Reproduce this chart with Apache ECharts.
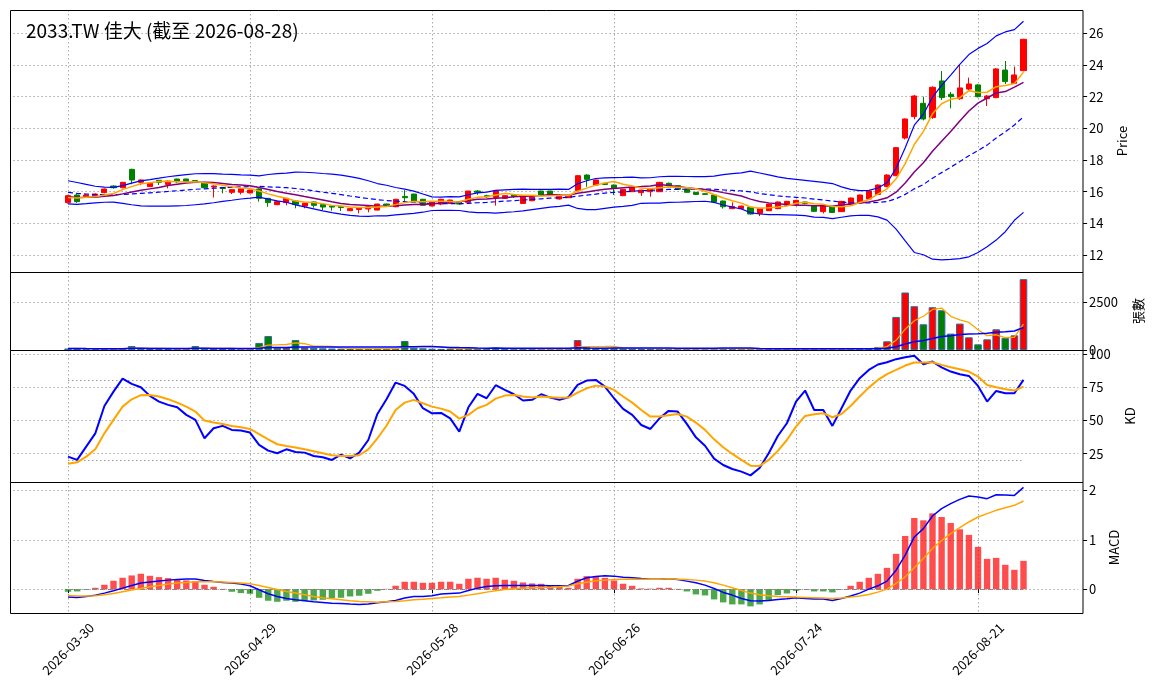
<!DOCTYPE html>
<html>
<head>
<meta charset="utf-8">
<title>2033.TW 佳大</title>
<script src="https://cdn.jsdelivr.net/npm/echarts@6/dist/echarts.min.js"></script>
<style>
html, body { margin: 0; padding: 0; background: #fff; }
#chart { width: 1156px; height: 698px; }
</style>
</head>
<body>
<div id="chart"></div>
<script>
// trading calendar: weekdays from first to last bar, minus exchange holidays
var firstDay = '2026-03-30';
var lastDay = '2026-08-28';
var holidays = ['2026-04-03', '2026-04-06', '2026-05-01', '2026-06-19'];

var opens = [15.31,15.79,15.68,15.72,15.94,16.36,16.25,17.41,16.59,16.32,
  16.72,16.46,16.8,16.8,16.7,16.57,16.3,16.27,15.96,15.96,
  15.92,16.17,15.58,15.18,15.31,15.41,15.09,15.35,15.2,15.09,
  15.07,14.8,14.88,14.91,14.84,15.22,15.05,15.7,15.85,15.52,
  15.1,15.22,15.26,15.37,15.33,16.04,15.75,15.64,15.58,15.8,
  15.26,15.43,16.04,16.04,15.54,15.62,16.06,17.05,16.42,16.53,
  16.42,15.75,16.0,15.94,16.0,16.0,16.53,16.38,16.15,15.96,
  15.87,15.79,15.41,14.93,14.93,15.01,14.63,14.8,14.93,15.14,
  15.2,15.35,15.09,14.74,15.05,14.74,15.18,15.33,15.54,15.83,
  16.32,17.01,19.39,20.74,21.58,20.69,22.99,22.15,21.87,22.48,
  22.74,21.87,21.94,23.68,22.84,23.64];
var highs = [15.8,15.85,15.85,15.9,16.2,16.4,16.62,17.45,16.76,16.56,
  16.74,16.7,16.82,16.82,16.72,16.6,16.4,16.3,16.15,16.2,
  16.12,16.2,15.6,15.4,15.6,15.45,15.3,15.37,15.22,15.1,
  15.08,14.95,15.0,15.07,15.24,15.25,15.55,16.1,15.87,15.55,
  15.4,15.55,15.5,15.4,16.06,16.1,15.8,16.06,15.78,15.85,
  15.76,15.7,16.06,16.06,15.82,15.78,17.05,17.1,16.76,16.56,
  16.45,16.17,16.3,16.12,16.19,16.62,16.58,16.4,16.18,15.98,
  15.9,15.82,15.44,15.33,15.12,15.03,14.98,15.25,15.38,15.42,
  15.48,15.38,15.12,15.17,15.08,15.42,15.63,15.82,16.07,16.46,
  17.1,18.82,20.62,22.1,22.0,22.65,23.62,22.3,24.0,23.2,
  22.78,22.1,23.8,24.25,23.9,25.65];
var lows = [15.25,15.3,15.6,15.65,15.9,16.2,16.22,16.47,16.42,16.3,
  16.42,16.21,16.55,16.6,16.55,16.22,15.63,15.9,15.85,15.83,
  15.9,15.37,15.05,15.15,15.14,14.95,14.95,14.99,14.84,14.8,
  14.78,14.78,14.63,14.7,14.82,15.1,15.02,15.37,15.35,15.12,
  15.08,15.15,15.24,15.2,15.3,15.8,15.6,15.12,15.55,15.6,
  15.24,15.4,15.76,15.76,15.5,15.6,16.03,16.31,16.4,16.42,
  15.79,15.72,15.98,15.73,15.68,15.98,16.35,16.12,15.94,15.8,
  15.8,15.3,14.93,14.9,14.9,14.56,14.46,14.78,14.9,15.1,
  15.18,15.2,14.72,14.63,14.66,14.72,15.15,15.3,15.5,15.8,
  16.28,16.98,19.3,20.57,20.5,20.6,21.79,21.26,21.8,22.4,
  21.95,21.41,21.9,22.8,22.8,23.6];
var closes = [15.75,15.37,15.79,15.85,16.17,16.25,16.59,16.74,16.74,16.53,
  16.59,16.67,16.63,16.63,16.62,16.25,16.36,16.2,16.13,16.19,
  16.1,15.58,15.31,15.37,15.58,15.2,15.28,15.14,15.03,15.03,
  15.0,14.93,14.99,15.05,15.22,15.14,15.52,15.62,15.37,15.14,
  15.37,15.52,15.47,15.22,16.04,15.96,15.68,16.04,15.75,15.7,
  15.73,15.68,15.79,15.79,15.79,15.75,17.01,16.78,16.74,16.46,
  16.21,16.15,16.27,16.1,16.17,16.59,16.38,16.15,15.96,15.83,
  15.83,15.35,15.05,15.07,15.09,14.59,14.95,15.22,15.35,15.39,
  15.45,15.26,14.76,15.14,14.69,15.39,15.6,15.79,16.04,16.42,
  17.05,18.78,20.59,22.04,20.59,22.59,21.94,22.0,22.55,22.8,
  22.0,22.04,23.75,22.95,23.37,25.62];
// closes before the window, backed out from where the averages start
var priorCloses = [16.7,16.6,16.5,16.4,16.3,16.2,16.1,16.0,15.9,15.7,
  15.8,15.7,15.75,15.65,15.7,15.6,15.55,15.65,15.65];

var volumes = [80,90,60,50,70,60,90,210,70,60,
  50,60,70,60,210,80,70,60,50,60,
  80,370,730,120,140,520,130,110,90,80,
  70,60,70,80,90,60,80,470,120,90,
  70,60,70,50,100,80,60,120,60,50,
  70,60,70,60,60,70,520,150,90,80,
  110,90,70,60,70,80,60,60,70,60,
  50,80,90,60,50,70,60,50,60,50,
  60,50,60,70,50,60,80,90,100,160,
  455,1730,3007,2290,1346,2237,2080,857,1381,664,
  297,559,1084,629,769,3706];

var kValues = [22.8,20.3,30.3,40.3,60.9,71.7,81.5,77.5,75,68.5,
  64.2,61.7,59.9,54.2,50.4,36.6,44.1,45.9,42.9,42.4,
  40.9,31.6,27.3,25.3,28.3,26.3,25.8,23.3,22.3,20.3,
  24.3,21.5,25.8,35.3,54.9,66,78.5,76,70,59.2,
  55.4,55.7,51.6,41.6,59.9,70,66.7,76.5,73,69.7,
  65,65.5,69.7,67.2,65.5,67.5,76.7,80,80.5,75.5,
  66.7,58.7,54.2,46.6,43.6,51.6,57.2,56.7,47.4,37.3,
  31,21.3,16.5,13.5,11.5,8.7,14.2,25.3,38.3,47.9,
  64.2,72.5,57.9,57.9,45.9,59.2,72.5,81.8,88,92.1,
  93.8,96.1,97.6,98.6,92.3,94.3,90,86.8,84.8,83.5,
  76,64.2,72.2,70.5,70.5,80.5];
var dValues = [17.5,18.5,22.8,28.3,40.3,50.4,60.4,65.9,69,69.2,
  68,66,63.4,60.4,56.7,49.9,48.4,47.4,45.9,44.9,
  43.6,39.8,35.8,32.1,30.8,29.6,28.3,26.8,25.3,23.8,
  23.3,23.3,23.8,28.3,36.6,46,57.9,63.4,65.5,62.9,
  60.4,58.9,56.7,51.4,54.2,59.2,61.7,66.4,68.7,69.2,
  68,67.2,68,67.5,67,67.2,71,74.2,76.2,75.5,
  73,68,63.4,57.9,52.9,52.9,53.9,54.9,52.9,48.4,
  42.9,35.8,29.8,24.8,20.3,16,15.8,20.3,27.1,35.3,
  45.4,53.4,54.7,55.4,52.4,54.9,60.9,68,74.7,80.5,
  84.8,88,91.3,93.6,93.6,93.8,91.8,90,88.5,86.8,
  83,76.7,75,73.5,72.5,75.5];

var difValues = [-0.162,-0.169,-0.149,-0.122,-0.081,-0.034,0.02,0.074,0.122,0.142,
  0.162,0.182,0.196,0.203,0.203,0.176,0.155,0.135,0.122,0.101,
  0.068,-0.014,-0.095,-0.149,-0.189,-0.216,-0.236,-0.257,-0.27,-0.284,
  -0.291,-0.304,-0.311,-0.304,-0.277,-0.257,-0.23,-0.182,-0.149,-0.149,
  -0.135,-0.101,-0.088,-0.081,-0.027,0.02,0.054,0.068,0.074,0.074,
  0.074,0.074,0.074,0.07,0.067,0.074,0.162,0.229,0.256,0.269,
  0.263,0.242,0.229,0.215,0.202,0.202,0.209,0.195,0.162,0.128,
  0.081,0.013,-0.067,-0.121,-0.189,-0.236,-0.242,-0.229,-0.209,-0.195,
  -0.175,-0.189,-0.202,-0.202,-0.229,-0.189,-0.141,-0.081,0,0.067,
  0.162,0.384,0.687,1.057,1.226,1.481,1.63,1.731,1.818,1.886,
  1.865,1.832,1.912,1.906,1.899,2.061];
var deaValues = [-0.128,-0.142,-0.142,-0.135,-0.115,-0.088,-0.054,-0.02,0.014,0.047,
  0.074,0.101,0.122,0.135,0.149,0.149,0.149,0.142,0.135,0.122,
  0.108,0.074,0.034,-0.007,-0.047,-0.081,-0.115,-0.149,-0.176,-0.196,
  -0.216,-0.236,-0.25,-0.257,-0.264,-0.257,-0.25,-0.236,-0.216,-0.203,
  -0.189,-0.176,-0.162,-0.149,-0.122,-0.095,-0.061,-0.034,-0.007,0.007,
  0.02,0.027,0.034,0.04,0.047,0.061,0.108,0.141,0.168,0.182,
  0.195,0.202,0.202,0.202,0.202,0.202,0.209,0.202,0.195,0.182,
  0.162,0.128,0.081,0.027,-0.027,-0.081,-0.114,-0.135,-0.148,-0.155,
  -0.162,-0.168,-0.175,-0.182,-0.189,-0.182,-0.162,-0.141,-0.108,-0.061,
  0,0.114,0.249,0.431,0.62,0.822,0.983,1.125,1.246,1.36,
  1.461,1.529,1.596,1.65,1.697,1.785];
var histValues = [-0.054,-0.047,-0.01,0.027,0.088,0.169,0.23,0.277,0.311,0.27,
  0.243,0.223,0.189,0.176,0.162,0.088,0.047,0.005,-0.054,-0.081,
  -0.095,-0.176,-0.236,-0.257,-0.236,-0.257,-0.243,-0.23,-0.216,-0.182,
  -0.176,-0.149,-0.135,-0.095,-0.034,0.005,0.068,0.149,0.149,0.128,
  0.128,0.149,0.149,0.108,0.209,0.23,0.209,0.23,0.189,0.169,
  0.135,0.115,0.108,0.07,0.047,0.027,0.209,0.263,0.249,0.229,
  0.175,0.108,0.067,0.013,0.01,0.027,0.027,0.005,-0.047,-0.108,
  -0.128,-0.209,-0.269,-0.31,-0.31,-0.35,-0.31,-0.242,-0.121,-0.088,
  -0.034,-0.005,-0.047,-0.047,-0.067,-0.005,0.067,0.148,0.229,0.31,
  0.431,0.714,1.077,1.441,1.394,1.535,1.461,1.34,1.212,1.098,
  0.855,0.613,0.633,0.492,0.391,0.572];

var priceTicks = [12, 14, 16, 18, 20, 22, 24, 26];
var volumeTicks = [0, 2500];
var kdTicks = [25, 50, 75, 100];
var macdTicks = [0, 1, 2];

var FONT = '"Noto Sans CJK TC", "Noto Sans", sans-serif';
var PAD_LEFT = 6, PAD_RIGHT = 6, LABEL_STEP = 20;

function tradingDays(start, end) {
    var out = [];
    var d = new Date(start + 'T00:00:00Z');
    var stop = new Date(end + 'T00:00:00Z');
    while (d <= stop) {
        var s = d.toISOString().slice(0, 10);
        var wd = d.getUTCDay();
        if (wd !== 0 && wd !== 6 && holidays.indexOf(s) < 0) out.push(s);
        d.setUTCDate(d.getUTCDate() + 1);
    }
    return out;
}

function pad(arr) {
    var left = [], right = [];
    for (var i = 0; i < PAD_LEFT; i++) left.push('-');
    for (var j = 0; j < PAD_RIGHT; j++) right.push('-');
    return left.concat(arr, right);
}

function rollingMean(src, n, offset, count) {
    var out = [];
    for (var i = 0; i < count; i++) {
        var end = i + offset + 1;
        var start = Math.max(0, end - n);
        var s = 0;
        for (var k = start; k < end; k++) s += src[k];
        out.push(+(s / (end - start)).toFixed(3));
    }
    return out;
}

function rollingStd(src, n, offset, count) {
    var out = [];
    for (var i = 0; i < count; i++) {
        var end = i + offset + 1;
        var start = Math.max(0, end - n);
        var m = 0, len = end - start;
        for (var k = start; k < end; k++) m += src[k];
        m /= len;
        var v = 0;
        for (var k2 = start; k2 < end; k2++) v += (src[k2] - m) * (src[k2] - m);
        out.push(len > 1 ? Math.sqrt(v / (len - 1)) : 0);
    }
    return out;
}

var dates = tradingDays(firstDay, lastDay);
var n = dates.length;
var categories = [];
for (var i = 0; i < PAD_LEFT; i++) categories.push('L' + i);
categories = categories.concat(dates);
for (var i = 0; i < PAD_RIGHT; i++) categories.push('R' + i);

var allCloses = priorCloses.concat(closes);
var off = priorCloses.length;
var ma5 = rollingMean(allCloses, 5, off, n);
var ma10 = rollingMean(allCloses, 10, off, n);
var ma20 = rollingMean(allCloses, 20, off, n);
var sd20 = rollingStd(allCloses, 20, off, n);
var bbUpper = ma20.map(function (m, i) { return +(m + 2 * sd20[i]).toFixed(3); });
var bbLower = ma20.map(function (m, i) { return +(m - 2 * sd20[i]).toFixed(3); });
var volMa5 = rollingMean(volumes, 5, 0, n);
var volMa20 = rollingMean(volumes, 20, 0, n);

var candleData = [];
var volumeData = [];
var histData = [];
for (var i = 0; i < n; i++) {
    candleData.push([opens[i], closes[i], lows[i], highs[i]]);
    volumeData.push({
        value: volumes[i],
        itemStyle: { color: closes[i] >= opens[i] ? '#ff0000' : '#008000' }
    });
    histData.push({
        value: histValues[i],
        itemStyle: { color: histValues[i] >= 0 ? 'rgba(255,0,0,0.7)' : 'rgba(0,128,0,0.7)' }
    });
}

function tickFilter(index) {
    var k = index - PAD_LEFT;
    return k >= 0 && k <= 100 && k % LABEL_STEP === 0;
}

var gridLine = { color: '#a8a8a8', type: [1.5, 2.5], width: 1 };

function xAxisFor(gridIndex, bottom) {
    return {
        type: 'category', gridIndex: gridIndex, data: categories, boundaryGap: false,
        axisLine: { show: false },
        axisTick: { show: bottom, interval: tickFilter, length: 4, lineStyle: { color: '#000' } },
        axisLabel: {
            show: bottom, interval: tickFilter, rotate: 45, margin: 36,
            align: 'center', verticalAlign: 'middle',
            fontSize: 13, color: '#000', fontFamily: FONT
        },
        splitLine: { show: true, interval: tickFilter, lineStyle: gridLine }
    };
}

function yAxisFor(gridIndex, min, max, ticks, name, gap) {
    return {
        type: 'value', gridIndex: gridIndex, position: 'right', offset: 5,
        min: min, max: max,
        name: name, nameLocation: 'middle', nameGap: gap, nameRotate: 90,
        nameTextStyle: { fontSize: 13, color: '#000', fontFamily: FONT },
        axisLine: { show: false },
        axisTick: { show: true, length: 4, customValues: ticks, lineStyle: { color: '#000' } },
        axisLabel: {
            customValues: ticks, fontSize: 13, color: '#000', margin: 6, fontFamily: FONT,
            formatter: function (v) { return String(v); }
        },
        splitLine: { show: true, lineStyle: gridLine }
    };
}

function lineSeries(name, data, xi, color, width, dashed) {
    return {
        name: name, type: 'line', xAxisIndex: xi, yAxisIndex: xi, data: pad(data),
        symbol: 'none', silent: true, z: 5,
        lineStyle: { color: color, width: width, type: dashed ? [5, 3] : 'solid' }
    };
}

var gridLeft = 13.4, gridWidth = 1064.7;
var panels = [
    { top: 10, height: 262 },
    { top: 272, height: 78 },
    { top: 350, height: 132 },
    { top: 482, height: 131 }
];

var frames = panels.map(function (p) {
    return {
        type: 'rect', z: 100, silent: true,
        shape: { x: 10.5, y: p.top + 0.5, width: 1072.5, height: p.height },
        style: { fill: null, stroke: '#000', lineWidth: 1 }
    };
});

var chart = echarts.init(document.getElementById('chart'));
var option = {
    animation: false,
    backgroundColor: '#fff',
    title: {
        text: '2033.TW 佳大 (截至 2026-08-28)',
        left: 21, top: 16,
        textStyle: { fontSize: 19, fontWeight: 'normal', color: '#000', fontFamily: FONT }
    },
    graphic: frames,
    grid: panels.map(function (p) {
        return { left: gridLeft, width: gridWidth, top: p.top, height: p.height, show: false };
    }),
    xAxis: [xAxisFor(0, false), xAxisFor(1, false), xAxisFor(2, false), xAxisFor(3, true)],
    yAxis: [
        yAxisFor(0, 10.93, 27.47, priceTicks, 'Price', 32),
        yAxisFor(1, 0, 4080, volumeTicks, '張數', 48),
        yAxisFor(2, 3.7, 103, kdTicks, 'KD', 40),
        yAxisFor(3, -0.484, 2.17, macdTicks, 'MACD', 23)
    ],
    series: [
        {
            name: 'K線', type: 'candlestick', xAxisIndex: 0, yAxisIndex: 0,
            data: pad(candleData), barWidth: 5.6, z: 3,
            itemStyle: {
                color: '#ff0000', color0: '#008000',
                borderColor: '#ff0000', borderColor0: '#008000', borderWidth: 1
            }
        },
        lineSeries('BB上軌', bbUpper, 0, '#0000ff', 1.2, false),
        lineSeries('BB下軌', bbLower, 0, '#0000ff', 1.2, false),
        lineSeries('MA20', ma20, 0, '#0000ff', 1.2, true),
        lineSeries('MA10', ma10, 0, '#800080', 1.5, false),
        lineSeries('MA5', ma5, 0, '#ffa500', 1.5, false),
        {
            name: '成交量', type: 'bar', xAxisIndex: 1, yAxisIndex: 1,
            data: pad(volumeData), barWidth: 7.6, z: 3,
            itemStyle: { borderColor: '#2f6c9c', borderWidth: 1 }
        },
        lineSeries('量MA5', volMa5, 1, '#ffa500', 1.3, false),
        lineSeries('量MA20', volMa20, 1, '#0000ff', 1.5, false),
        {
            name: 'K', type: 'line', xAxisIndex: 2, yAxisIndex: 2, data: pad(kValues),
            symbol: 'none', z: 5, lineStyle: { color: '#0000ff', width: 2 },
            markLine: {
                silent: true, symbol: 'none', label: { show: false },
                lineStyle: { color: '#999', type: [1.5, 2.5], width: 1 },
                data: [
                    [{ coord: [dates[0], 80] }, { coord: [dates[n - 1], 80] }],
                    [{ coord: [dates[0], 20] }, { coord: [dates[n - 1], 20] }]
                ]
            }
        },
        {
            name: 'D', type: 'line', xAxisIndex: 2, yAxisIndex: 2, data: pad(dValues),
            symbol: 'none', z: 5, lineStyle: { color: '#ffa500', width: 2 }
        },
        {
            name: 'OSC', type: 'bar', xAxisIndex: 3, yAxisIndex: 3,
            data: pad(histData), barWidth: 6.4, z: 3,
            markLine: {
                silent: true, symbol: 'none', label: { show: false },
                lineStyle: { color: '#888', type: [5, 3], width: 1 },
                data: [[{ coord: [dates[0], 0] }, { coord: [dates[n - 1], 0] }]]
            }
        },
        lineSeries('DIF', difValues, 3, '#0000ff', 1.5, false),
        lineSeries('DEA', deaValues, 3, '#ffa500', 1.5, false)
    ]
};

if (option && typeof option === 'object') {
    chart.setOption(option, true);
}
</script>
</body>
</html>
